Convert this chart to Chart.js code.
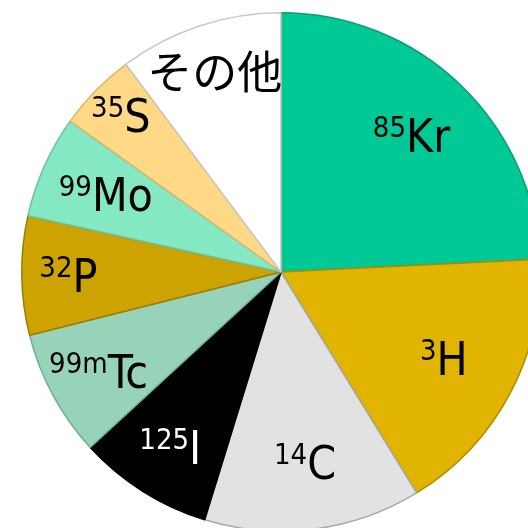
<!DOCTYPE html>
<html>
<head>
<meta charset="utf-8">
<script src="https://cdn.jsdelivr.net/npm/chart.js@4/dist/chart.umd.min.js"></script>
<style>
  html, body { margin: 0; padding: 0; background: #fff; overflow: hidden; width: 528px; height: 528px; }
  #wrap { position: absolute; left: 21px; top: 12px; width: 520px; height: 520px; }
</style>
</head>
<body>
<div id="wrap"><canvas id="pieChart" width="520" height="520"></canvas></div>
<script>
// 核種の割合 (%)
const isotopes = ['Kr', 'H', 'C', 'I', 'Tc', 'P', 'Mo', 'S', 'その他'];
const massNumbers = ['85', '3', '14', '125', '99m', '32', '99', '35', ''];
const shares = [24.2, 17.0, 13.5, 8.4, 7.9, 7.4, 6.4, 4.9, 10.2];

const fillColors = ['#00c996', '#e0b400', '#e2e2e2', '#000000', '#96d3b8', '#cca300', '#84e8c2', '#ffd985', '#ffffff'];
const edgeColors = ['#0a9c76', '#b08c00', '#a8a8a8', '#000000', '#6fae93', '#9e7e00', '#6cc3a2', '#d9b56a', '#c8c8c8'];
const textColors = ['#000', '#000', '#000', '#fff', '#000', '#000', '#000', '#000', '#000'];
const labelDist = [0.73, 0.71, 0.74, 0.80, 0.80, 0.82, 0.74, 0.865, 0.81];

// ラベル描画 (上付きの質量数つき)
const isotopeLabels = {
    id: 'isotopeLabels',
    afterDatasetsDraw(chart) {
        const ctx = chart.ctx;
        const arcs = chart.getDatasetMeta(0).data;
        arcs.forEach((arc, i) => {
            const a = (arc.startAngle + arc.endAngle) / 2;
            const r = arc.outerRadius * labelDist[i];
            const cx = arc.x + Math.cos(a) * r;
            const cy = arc.y + Math.sin(a) * r;
            const isJa = massNumbers[i] === '';
            const mainFont = isJa ? '45px "Noto Sans CJK JP"' : '46px "DejaVu Sans Condensed"';
            const supFont = '29px "DejaVu Sans Condensed"';
            ctx.save();
            ctx.fillStyle = textColors[i];
            ctx.textBaseline = 'alphabetic';
            ctx.textAlign = 'left';
            ctx.font = supFont;
            const supW = massNumbers[i] ? ctx.measureText(massNumbers[i]).width : 0;
            ctx.font = mainFont;
            const mainW = ctx.measureText(isotopes[i]).width;
            const x0 = cx - (supW + mainW) / 2;
            const base = cy + (isJa ? 16 : 17);
            if (massNumbers[i]) {
                ctx.font = supFont;
                ctx.fillText(massNumbers[i], x0, base - 15);
            }
            ctx.font = mainFont;
            ctx.fillText(isotopes[i], x0 + supW, base);
            ctx.restore();
        });
    }
};

const ctx = document.getElementById('pieChart').getContext('2d');
new Chart(ctx, {
    type: 'pie',
    data: {
        labels: isotopes,
        datasets: [{
            data: shares,
            backgroundColor: fillColors,
            borderColor: edgeColors,
            borderWidth: 1.5
        }]
    },
    options: {
        responsive: false,
        animation: false,
        layout: { padding: 0 },
        plugins: {
            legend: { display: false },
            tooltip: { enabled: false }
        }
    },
    plugins: [isotopeLabels]
});
</script>
</body>
</html>
